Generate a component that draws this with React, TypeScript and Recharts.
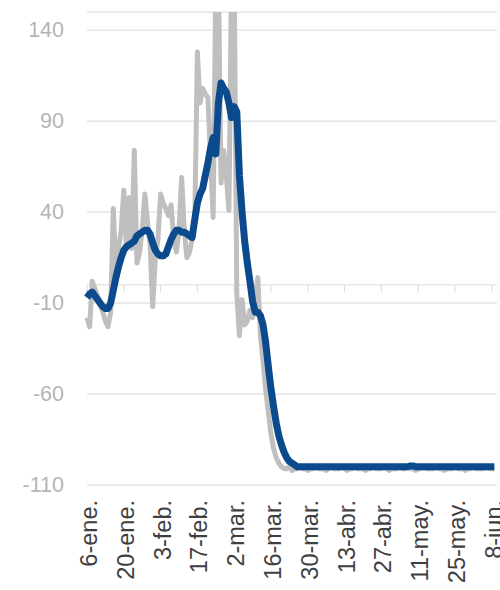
import React from 'react';
import { LineChart, Line, XAxis, YAxis, CartesianGrid, ReferenceLine } from 'recharts';

// X tick labels (every 14 days starting 6-ene, day index 0)
const tickDays = [0, 14, 28, 42, 56, 70, 84, 98, 112, 126, 140, 154];
const tickLabels = ['6-ene.', '20-ene.', '3-feb.', '17-feb.', '2-mar.', '16-mar.', '30-mar.', '13-abr.', '27-abr.', '11-may.', '25-may.', '8-jun.'];

const yTicks = [-110, -60, -10, 40, 90, 140];

// Daily series (gray)
const dailyValues = [
  -18, -23, 2, -2, -6, -10, -15, -20, -23, -15,
  42, 8, 20, 30, 52, 20, 48, 20, 74, 12,
  18, 30, 50, 35, 22, -12, 15, 25, 50, 45,
  42, 38, 44, 25, 18, 30, 59, 30, 15, 18,
  25, 35, 128, 100, 108, 105, 103, 70, 37, 165,
  170, 56, 74, 60, 41, 170, 170, -5, -28, -8,
  -22, -20, -14, -18, -8, 4, -28, -42, -58, -70,
  -82, -90, -95, -98, -100, -101, -101, -100, -102, -101,
  -101, -100, -101, -101, -102, -101, -101, -100, -101, -101,
  -101, -102, -101, -100, -101, -101, -101, -100, -101, -102,
  -101, -101, -100, -101, -101, -101, -102, -101, -101, -100,
  -101, -101, -101, -100, -101, -102, -101, -101, -101, -100,
  -101, -101, -100, -101, -101, -102, -101, -101, -100, -101,
  -101, -101, -101, -100, -101, -101, -102, -101, -101, -101,
  -100, -101, -101, -101, -102, -101, -101, -100, -101, -101,
  -101, -101, -100, -101, -101, -101,
];

// 7-day average series (blue)
const avgValues = [
  -7, -5, -4, -6, -8, -10, -12, -13, -13, -10,
  -3, 4, 10, 15, 19, 21, 22, 23, 24, 27,
  28, 29, 30, 30, 28, 23, 19, 17, 16, 16,
  17, 21, 25, 28, 30, 30, 29, 29, 28, 27,
  26, 36, 45, 50, 53, 60, 67, 75, 81, 72,
  100, 111, 108, 106, 100, 92, 98, 95, 60, 40,
  24, 12, 2, -9, -15, -15, -17, -22, -32, -45,
  -57, -67, -76, -83, -88, -92, -95, -97, -98, -99,
  -100, -100, -100, -100, -100, -100, -100, -100, -100, -100,
  -100, -100, -100, -100, -100, -100, -100, -100, -100, -100,
  -100, -100, -100, -100, -100, -100, -100, -100, -100, -100,
  -100, -100, -100, -100, -100, -100, -100, -100, -100, -100,
  -100, -100, -100, -99.5, -99.5, -100, -100, -100, -100, -100,
  -100, -100, -100, -100, -100, -100, -100, -100, -100, -100,
  -100, -100, -100, -100, -100, -100, -100, -100, -100, -100,
  -100, -100, -100, -100, -100, -100,
];

const data = dailyValues.map((v, i) => ({ d: i, daily: v, avg: avgValues[i] }));

const XTick = (props: any) => {
  const { x, y, payload } = props;
  const idx = tickDays.indexOf(payload.value);
  const label = idx >= 0 ? tickLabels[idx] : '';
  return (
    <text
      x={x + 2}
      y={y}
      transform={`rotate(-90 ${x + 2} ${y})`}
      textAnchor="end"
      dominantBaseline="central"
      fill="#3F3F3F"
      fontSize={23.5}
      fontFamily="'Liberation Sans', Arial, sans-serif"
    >
      {label}
    </text>
  );
};

const YTick = (props: any) => {
  const { x, y, payload } = props;
  return (
    <text
      x={x}
      y={y}
      textAnchor="end"
      dominantBaseline="central"
      fill="#B5B5B5"
      fontSize={21.5}
      fontFamily="'Liberation Sans', Arial, sans-serif"
    >
      {payload.value}
    </text>
  );
};

export default function App() {
  return (
    <div style={{ position: 'absolute', left: 0, top: 0, width: 500, height: 590, background: '#fff' }}>
      <LineChart width={500} height={590} data={data} margin={{ top: 12, right: 3, bottom: 0, left: 0 }}>
        <CartesianGrid horizontal vertical={false} stroke="#D9D9D9" strokeWidth={1} />
        <XAxis
          dataKey="d"
          type="number"
          domain={[0, 156]}
          ticks={tickDays}
          interval={0}
          axisLine={false}
          tickLine={false}
          height={105}
          tickMargin={9}
          tick={<XTick />}
        />
        <YAxis
          type="number"
          domain={[-110, 150]}
          ticks={yTicks}
          allowDataOverflow
          axisLine={false}
          tickLine={false}
          width={87}
          tickMargin={17}
          tick={<YTick />}
        />
        <ReferenceLine y={0} stroke="#D9D9D9" strokeWidth={1} />
        {tickDays.map((t) => (
          <ReferenceLine
            key={t}
            segment={[{ x: t, y: 0 }, { x: t, y: -4 }]}
            stroke="#D9D9D9"
            strokeWidth={1}
          />
        ))}
        <Line
          type="linear"
          dataKey="daily"
          stroke="#BFBFBF"
          strokeWidth={5}
          dot={false}
          activeDot={false}
          isAnimationActive={false}
          strokeLinejoin="round"
        />
        <Line
          type="linear"
          dataKey="avg"
          stroke="#0B4A8C"
          strokeWidth={7}
          dot={false}
          activeDot={false}
          isAnimationActive={false}
          strokeLinejoin="round"
        />
      </LineChart>
    </div>
  );
}
